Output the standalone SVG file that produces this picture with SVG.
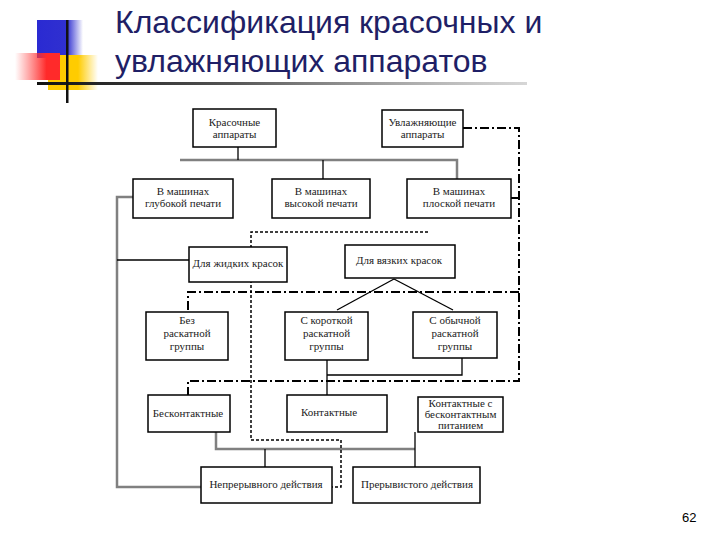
<svg xmlns="http://www.w3.org/2000/svg" width="720" height="540" viewBox="0 0 720 540">
<defs>
<linearGradient id="gBlue" x1="0" y1="0" x2="1" y2="0">
<stop offset="0" stop-color="#2a2ad2"/><stop offset="0.65" stop-color="#3030d0"/><stop offset="1" stop-color="#3030d0" stop-opacity="0"/>
</linearGradient>
<linearGradient id="gRed" x1="0" y1="0" x2="1" y2="0">
<stop offset="0" stop-color="#ff4040" stop-opacity="0"/><stop offset="0.7" stop-color="#ff2a2a"/><stop offset="1" stop-color="#ff2a2a"/>
</linearGradient>
<linearGradient id="gYel" x1="0" y1="0" x2="1" y2="0">
<stop offset="0" stop-color="#ffcc00"/><stop offset="0.6" stop-color="#ffcc00"/><stop offset="1" stop-color="#ffcc00" stop-opacity="0"/>
</linearGradient>
<linearGradient id="gLine" x1="0" y1="0" x2="1" y2="0">
<stop offset="0" stop-color="#111"/><stop offset="0.4" stop-color="#555"/><stop offset="1" stop-color="#bbb" stop-opacity="0.6"/>
</linearGradient>
</defs>
<style>
.title{font-family:"Liberation Sans",Arial,sans-serif;font-size:32px;fill:#1f1f66}
.box{fill:#fff;stroke:#000;stroke-width:1.5}
.t{font-family:"Liberation Serif","Times New Roman",serif;font-size:11px;fill:#222;text-anchor:middle}
.gray{fill:none;stroke:#808080;stroke-width:2.5}
.thin{fill:none;stroke:#000;stroke-width:1.3}
.dd{fill:none;stroke:#000;stroke-width:2;stroke-dasharray:9 3 2 3}
.dot{fill:none;stroke:#000;stroke-width:1.5;stroke-dasharray:3 2}
.num{font-family:"Liberation Sans",Arial,sans-serif;font-size:13px;fill:#000}
</style>
<rect width="720" height="540" fill="#fff"/>
<g id="decoration">
<rect x="37" y="20" width="46" height="38" fill="url(#gBlue)"/>
<rect x="48" y="55" width="50" height="35" fill="url(#gYel)"/>
<rect x="15" y="53" width="45" height="27" fill="url(#gRed)"/>
<rect x="37" y="82" width="490" height="3" fill="url(#gLine)"/>
<rect x="66" y="20" width="2.5" height="83" fill="#111"/>
</g>
<g id="title">
<text class="title" x="115" y="33">Классификация красочных и</text>
<text class="title" x="115" y="72">увлажняющих аппаратов</text>
</g>
<g id="connectors">
<path class="gray" d="M180,160 H457 V179"/>
<path class="gray" d="M133,197 H117 V487 H201"/>
<path class="gray" d="M216,432 V449 H415"/>
<path class="thin" d="M238,147 V160"/>
<path class="thin" d="M323,160 V179"/>
<path class="thin" d="M117,260 H189"/>
<path class="thin" d="M394,279 L337,310"/>
<path class="thin" d="M394,279 L453,310"/>
<path class="thin" d="M327,360 V395"/>
<path class="thin" d="M462,358 V375 H327"/>
<path class="thin" d="M265,449 V467"/>
<path class="thin" d="M415,432 V467"/>
<path class="dd" d="M463,128 H519 V381 H188 V395"/>
<path class="dd" d="M511,198 H519"/>
<path class="dd" d="M519,292 H188 V312"/>
<path class="dot" d="M428,232 H251 V440 H341 V487 H332"/>
</g>
<g id="n1"><rect class="box" x="193" y="109" width="83" height="38"/><text class="t" x="234.5" y="126">Красочные</text><text class="t" x="234.5" y="138">аппараты</text></g>
<g id="n2"><rect class="box" x="382" y="110" width="81" height="37"/><text class="t" x="422.5" y="126">Увлажняющие</text><text class="t" x="422.5" y="138">аппараты</text></g>
<g id="n3"><rect class="box" x="133" y="179" width="100" height="39"/><text class="t" x="183" y="195">В машинах</text><text class="t" x="183" y="207">глубокой печати</text></g>
<g id="n4"><rect class="box" x="272" y="179" width="98" height="39"/><text class="t" x="321" y="195">В машинах</text><text class="t" x="321" y="207">высокой печати</text></g>
<g id="n5"><rect class="box" x="407" y="179" width="104" height="39"/><text class="t" x="459" y="195">В машинах</text><text class="t" x="459" y="207">плоской печати</text></g>
<g id="n6"><rect class="box" x="189" y="247" width="98" height="35"/><text class="t" x="238" y="267">Для жидких красок</text></g>
<g id="n7"><rect class="box" x="345" y="245" width="110" height="33"/><text class="t" x="399" y="264">Для вязких красок</text></g>
<g id="n8"><rect class="box" x="146" y="312" width="82" height="48"/><text class="t" x="187" y="324">Без</text><text class="t" x="187" y="337">раскатной</text><text class="t" x="187" y="350">группы</text></g>
<g id="n9"><rect class="box" x="285" y="312" width="83" height="48"/><text class="t" x="326.5" y="324">С короткой</text><text class="t" x="326.5" y="337">раскатной</text><text class="t" x="326.5" y="350">группы</text></g>
<g id="n10"><rect class="box" x="413" y="312" width="84" height="46"/><text class="t" x="455" y="324">С обычной</text><text class="t" x="455" y="337">раскатной</text><text class="t" x="455" y="350">группы</text></g>
<g id="n11"><rect class="box" x="148" y="395" width="82" height="37"/><text class="t" x="188" y="417">Бесконтактные</text></g>
<g id="n12"><rect class="box" x="287" y="395" width="100" height="37"/><text class="t" x="329" y="416">Контактные</text></g>
<g id="n13"><rect class="box" x="418" y="397" width="85" height="35"/><text class="t" x="460.5" y="407">Контактные с</text><text class="t" x="460.5" y="418">бесконтактным</text><text class="t" x="460.5" y="428.5">питанием</text></g>
<g id="n14"><rect class="box" x="201" y="467" width="131" height="36"/><text class="t" x="266" y="488">Непрерывного действия</text></g>
<g id="n15"><rect class="box" x="353" y="467" width="127" height="36"/><text class="t" x="417" y="488">Прерывистого действия</text></g>
<text class="num" x="682" y="522">62</text>
</svg>
